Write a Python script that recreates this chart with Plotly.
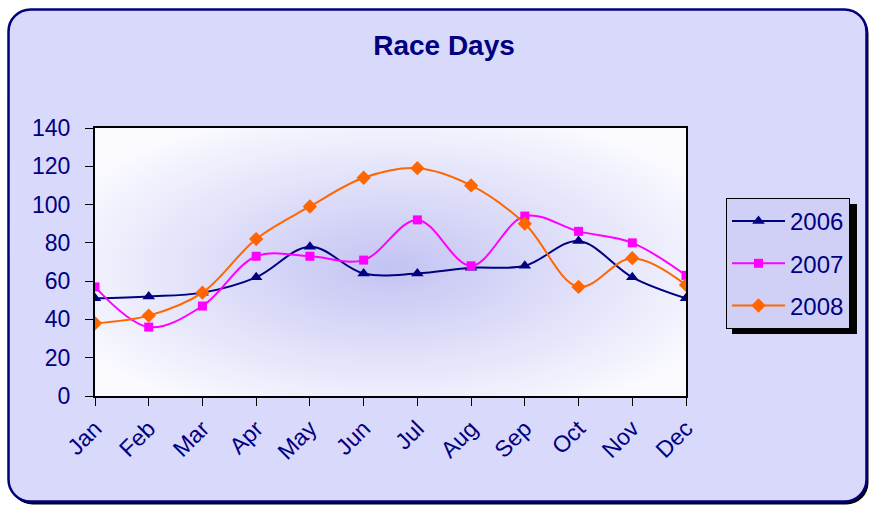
import base64
import plotly.graph_objects as go

months = ["Jan", "Feb", "Mar", "Apr", "May", "Jun", "Jul", "Aug", "Sep", "Oct", "Nov", "Dec"]
y2006 = [51, 52, 54, 62, 78, 64, 64, 67, 68, 81, 62, 51]
y2007 = [57, 36, 47, 73, 73, 71, 92, 68, 94, 86, 80, 63]
y2008 = [38, 42, 54, 82, 99, 114, 119, 110, 90, 57, 72, 58]
series_names = ["2006", "2007", "2008"]
y_ticks = [0, 20, 40, 60, 80, 100, 120, 140]

W, H = 870, 506
L, R, T, B = 95, 686, 128, 396  # plot area in px
NAVY = "#000080"
FONT = "Liberation Sans, Arial, sans-serif"

svg = f"""<svg xmlns='http://www.w3.org/2000/svg' width='{W}' height='{H}' viewBox='0 0 {W} {H}'>
<defs><radialGradient id='g' cx='50%' cy='52%' r='62%'>
<stop offset='0' stop-color='#C3C3F3'/><stop offset='0.55' stop-color='#E2E2FA'/><stop offset='1' stop-color='#FBFBFF'/>
</radialGradient></defs>
<rect width='{W}' height='{H}' fill='white'/>
<rect x='10.5' y='11.5' width='858' height='493' rx='22' fill='#000'/>
<rect x='8.5' y='9.5' width='858' height='492' rx='22' fill='#D9D9FB' stroke='{NAVY}' stroke-width='2.5'/>
<rect x='{L}' y='{T}' width='{R-L}' height='{B-T}' fill='url(#g)'/>
<rect x='732' y='204' width='125' height='130' fill='#000'/>
</svg>"""
src = "data:image/svg+xml;base64," + base64.b64encode(svg.encode()).decode()

pw, ph = R - L, B - T

fig = go.Figure()
styles = [
    (y2006, NAVY, "triangle-up", 11),
    (y2007, "#FF00FF", "square", 9),
    (y2008, "#FF6600", "diamond", 11),
]
for name, (vals, col, sym, sz) in zip(series_names, styles):
    fig.add_trace(go.Scatter(
        x=months, y=vals, name=name, mode="lines+markers",
        line=dict(color=col, width=2, shape="spline", smoothing=1.0),
        marker=dict(color=col, symbol=sym, size=sz),
        legendgroup=name,
    ))

fig.update_layout(
    width=W, height=H,
    margin=dict(l=L, r=W - R, t=T, b=H - B, pad=0),
    paper_bgcolor="white",
    plot_bgcolor="rgba(0,0,0,0)",
    font=dict(family=FONT, color=NAVY, size=23),
    title=dict(text="<b>Race Days</b>", x=444 / W, xref="container", xanchor="center",
               y=1 - 45 / H, yref="container", yanchor="middle",
               font=dict(family=FONT, size=28, color=NAVY)),
    images=[dict(source=src, xref="paper", yref="paper",
                 x=-L / pw, y=B / ph, sizex=W / pw, sizey=H / ph,
                 xanchor="left", yanchor="top", sizing="stretch", layer="below")],
    legend=dict(x=(726 - L) / pw, y=(B - 198) / ph, xanchor="left", yanchor="top",
                bgcolor="#D0D0F7", bordercolor="#000", borderwidth=1,
                font=dict(family=FONT, size=24, color=NAVY),
                tracegroupgap=8, itemwidth=53),
    showlegend=True,
)
fig.update_xaxes(
    type="category", range=[0, len(months) - 1],
    showline=True, linecolor="#000", linewidth=2, mirror=True,
    ticks="outside", ticklen=8, tickcolor="#000", tickwidth=1,
    tickangle=-45, showgrid=False, zeroline=False,
    tickfont=dict(family=FONT, size=23, color=NAVY),
)
fig.update_yaxes(
    range=[0, 140], tickvals=y_ticks,
    showline=True, linecolor="#000", linewidth=2, mirror=True,
    ticks="outside", ticklen=8, tickcolor="#000", tickwidth=1,
    showgrid=False, zeroline=False, ticklabelstandoff=10,
    tickfont=dict(family=FONT, size=23, color=NAVY),
)

fig.write_html("out.html", config={"displayModeBar": False},
               post_script="document.body.style.margin='0';document.body.style.overflow='hidden';")
